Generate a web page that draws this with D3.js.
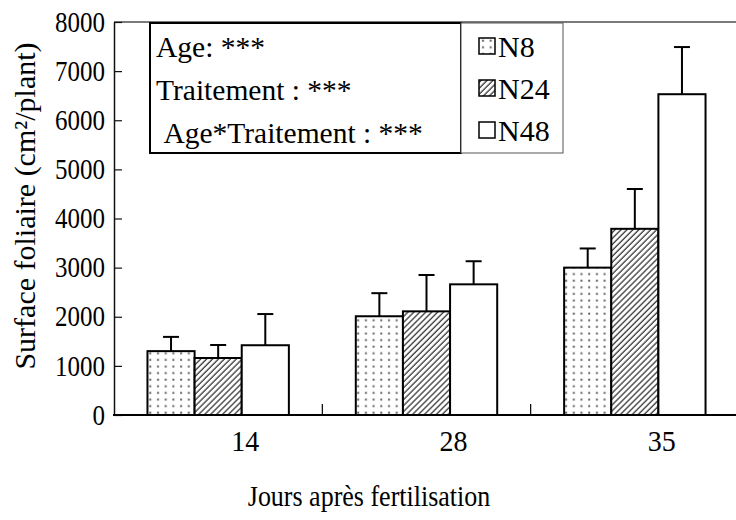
<!DOCTYPE html>
<html>
<head>
<meta charset="utf-8">
<script src="https://cdn.jsdelivr.net/npm/d3@7"></script>
<style>
  html, body { margin: 0; padding: 0; background: #fff; }
  svg { display: block; }
  text { font-family: "Liberation Serif", "Times New Roman", serif; fill: #000; }
</style>
</head>
<body>
<svg id="chart" width="736" height="520"></svg>
<script>
// ---- data ----
const categories = ["14", "28", "35"];
const series = ["N8", "N24", "N48"];
const n8 = [1300, 2010, 3000];
const n8Err = [290, 470, 390];
const n24 = [1160, 2110, 3790];
const n24Err = [265, 740, 810];
const n48 = [1420, 2660, 6530];
const n48Err = [635, 470, 960];
const yTicks = [0, 1000, 2000, 3000, 4000, 5000, 6000, 7000, 8000];
const statLines = ["Age: ***", "Traitement : ***", "\u00A0Age*Traitement : ***"];
const xTitle = "Jours après fertilisation";
const yTitle = "Surface foliaire (cm²/plant)";

const values = { N8: n8, N24: n24, N48: n48 };
const errors = { N8: n8Err, N24: n24Err, N48: n48Err };
const rows = [];
categories.forEach((c, i) => series.forEach(s => rows.push({ cat: c, s, v: values[s][i], e: errors[s][i] })));

const svg = d3.select("#chart");
const pLeft = 114, pRight = 739, pTop = 22, pBottom = 415;

const defs = svg.append("defs");
const dots = defs.append("pattern").attr("id", "dots").attr("patternUnits", "userSpaceOnUse")
  .attr("width", 7.7).attr("height", 6.6);
dots.append("rect").attr("width", 7.7).attr("height", 6.6).attr("fill", "#fff");
dots.append("rect").attr("x", 3).attr("y", 2.5).attr("width", 2).attr("height", 2).attr("fill", "#666");
const hatch = defs.append("pattern").attr("id", "hatch").attr("patternUnits", "userSpaceOnUse")
  .attr("width", 4.2).attr("height", 4.2).attr("patternTransform", "rotate(45)");
hatch.append("rect").attr("width", 4.2).attr("height", 4.2).attr("fill", "#fff");
hatch.append("line").attr("x1", 1).attr("y1", 0).attr("x2", 1).attr("y2", 4.2)
  .attr("stroke", "#444").attr("stroke-width", 1.4);
const fills = { N8: "url(#dots)", N24: "url(#hatch)", N48: "#fff" };

const x0 = d3.scaleBand().domain(categories).range([pLeft, pRight]).paddingInner(0).paddingOuter(0);
const x1 = d3.scaleBand().domain(series).range([0, x0.bandwidth()]).paddingInner(0).paddingOuter(0.71);
const y = d3.scaleLinear().domain([0, 8000]).range([pBottom, pTop]);

// top frame line
svg.append("line").attr("x1", pLeft).attr("x2", 736).attr("y1", pTop).attr("y2", pTop)
  .attr("stroke", "#7a7a7a").attr("stroke-width", 2);

// y axis
const yAxis = svg.append("g").attr("transform", `translate(${pLeft},0)`)
  .call(d3.axisLeft(y).tickValues(yTicks).tickSize(-8).tickSizeOuter(0).tickPadding(9).tickFormat(d3.format("d")));
yAxis.select(".domain").attr("stroke", "#111").attr("stroke-width", 1.5);
yAxis.selectAll(".tick line").attr("stroke", "#111").attr("stroke-width", 1.2);
yAxis.selectAll(".tick text").attr("font-size", 25).attr("font-family", "Liberation Serif").attr("fill", "#000")
  .attr("transform", "scale(1,1.15)");

// bars
const g = svg.append("g");
g.selectAll("rect.bar").data(rows).join("rect").attr("class", "bar")
  .attr("x", d => x0(d.cat) + x1(d.s))
  .attr("y", d => y(d.v))
  .attr("width", x1.bandwidth())
  .attr("height", d => y(0) - y(d.v))
  .attr("fill", d => fills[d.s])
  .attr("stroke", "#000").attr("stroke-width", 2);

// error bars
const capW = 16;
g.selectAll("line.err").data(rows).join("line").attr("class", "err")
  .attr("x1", d => x0(d.cat) + x1(d.s) + x1.bandwidth() / 2)
  .attr("x2", d => x0(d.cat) + x1(d.s) + x1.bandwidth() / 2)
  .attr("y1", d => y(d.v)).attr("y2", d => y(d.v + d.e))
  .attr("stroke", "#000").attr("stroke-width", 2);
g.selectAll("line.cap").data(rows).join("line").attr("class", "cap")
  .attr("x1", d => x0(d.cat) + x1(d.s) + x1.bandwidth() / 2 - capW / 2)
  .attr("x2", d => x0(d.cat) + x1(d.s) + x1.bandwidth() / 2 + capW / 2)
  .attr("y1", d => y(d.v + d.e)).attr("y2", d => y(d.v + d.e))
  .attr("stroke", "#000").attr("stroke-width", 2);

// x axis
const xAxis = svg.append("g").attr("transform", `translate(0,${pBottom})`)
  .call(d3.axisBottom(x0).tickSize(0).tickSizeOuter(0).tickPadding(0));
xAxis.select(".domain").remove();
xAxis.selectAll(".tick text").attr("font-size", 28).attr("font-family", "Liberation Serif")
  .attr("fill", "#000").attr("x", 0).attr("y", 0).attr("dy", 0)
  .attr("transform", "translate(27,36) scale(1,1.08)");
svg.append("line").attr("x1", pLeft - 1).attr("x2", 736).attr("y1", pBottom).attr("y2", pBottom)
  .attr("stroke", "#000").attr("stroke-width", 2.2);
svg.selectAll("line.sep").data(categories.slice(1)).join("line").attr("class", "sep")
  .attr("x1", d => x0(d)).attr("x2", d => x0(d))
  .attr("y1", pBottom).attr("y2", pBottom - 11)
  .attr("stroke", "#000").attr("stroke-width", 1.2);

// titles
svg.append("text").attr("transform", "translate(369,506) scale(1,1.15)").attr("text-anchor", "middle")
  .attr("font-size", 26).text(xTitle);
svg.append("text").attr("transform", "translate(35,206) rotate(-90)").attr("text-anchor", "middle")
  .attr("font-size", 30).text(yTitle);

// stats box
svg.append("rect").attr("x", 150).attr("y", 23).attr("width", 311).attr("height", 130)
  .attr("fill", "#fff").attr("stroke", "#000").attr("stroke-width", 2);
svg.selectAll("text.stat").data(statLines).join("text").attr("class", "stat")
  .attr("x", 156).attr("y", (d, i) => 57 + i * 43)
  .attr("font-size", 29.5).style("white-space", "pre").text(d => d);

// legend box
svg.append("rect").attr("x", 461).attr("y", 23).attr("width", 102).attr("height", 130)
  .attr("fill", "#fff").attr("stroke", "#555").attr("stroke-width", 1);
const lg = svg.selectAll("g.leg").data(series).join("g").attr("class", "leg")
  .attr("transform", (d, i) => `translate(479,${57 + i * 42})`);
lg.append("rect").attr("x", 0).attr("y", -19).attr("width", 16).attr("height", 16)
  .attr("fill", d => fills[d]).attr("stroke", "#000").attr("stroke-width", 1.5);
lg.append("text").attr("x", 19).attr("y", 0).attr("font-size", 30).text(d => d);
</script>
</body>
</html>
